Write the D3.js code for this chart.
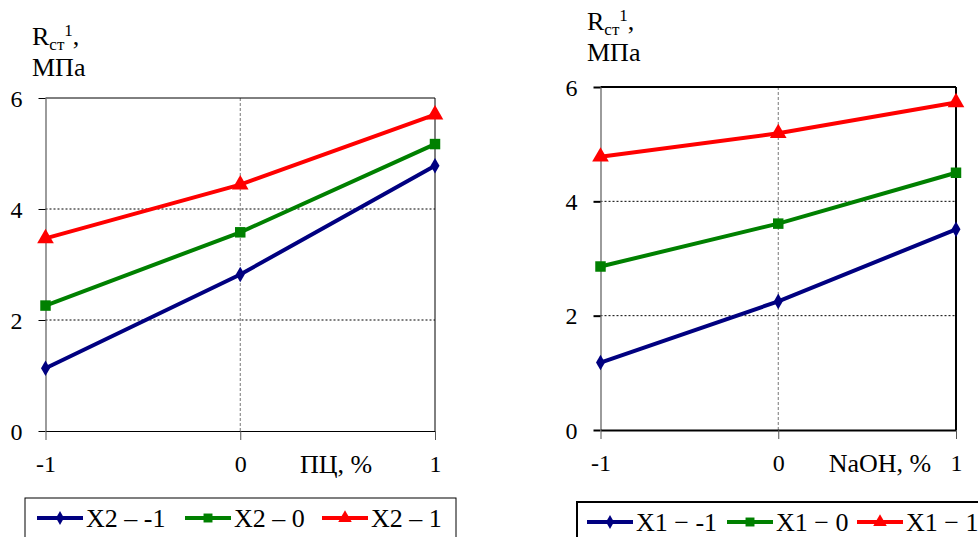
<!DOCTYPE html>
<meta charset="utf-8">
<style>
body { margin: 0; background: #fff; }
svg, svg text { font-family: "Liberation Serif", "Times New Roman", serif; fill: #000; }
.grid-h { stroke: #000; stroke-width: 1px; stroke-dasharray: 2,2; }
.grid-v { stroke: #777; stroke-width: 1px; stroke-dasharray: 3,2; }
.serie { fill: none; stroke-width: 4px; }
</style>
<body>
<script src="https://cdn.jsdelivr.net/npm/d3@7"></script>
<script>

// x levels and y ticks shared by both charts
var xLevels = [-1, 0, 1];
var yTicks = [0, 2, 4, 6];
var colors = ["#000080", "#008000", "#ff0000"];
var shapes = [d3.symbolDiamond, d3.symbolSquare, d3.symbolTriangle];

// left chart: R vs ПЦ, series by X2
var leftNames = ["X2 \u2013 -1", "X2 \u2013 0", "X2 \u2013 1"];
var leftX2m1 = [1.13, 2.82, 4.78];
var leftX20 = [2.26, 3.58, 5.17];
var leftX21 = [3.47, 4.44, 5.70];

// right chart: R vs NaOH, series by X1
var rightNames = ["X1 \u2212 -1", "X1 \u2212 0", "X1 \u2212 1"];
var rightX1m1 = [1.18, 2.25, 3.51];
var rightX10 = [2.86, 3.61, 4.50];
var rightX11 = [4.78, 5.19, 5.73];

var svg = d3.select("body").append("svg")
    .attr("width", 978)
    .attr("height", 537);

var plain = function(d) { return String(d); };

function draw(cfg) {
  var x = d3.scaleLinear().domain([-1, 1]).range([cfg.left, cfg.right]);
  var y = d3.scaleLinear().domain([0, 6]).range([cfg.bottom, cfg.top]);
  var g = svg.append("g");

  // grid
  g.selectAll(".grid-h").data([2, 4]).enter().append("line")
      .attr("class", "grid-h")
      .attr("x1", x(-1)).attr("x2", x(1))
      .attr("y1", d => y(d)).attr("y2", d => y(d));
  g.append("line").attr("class", "grid-v")
      .attr("x1", x(0)).attr("x2", x(0))
      .attr("y1", y(6)).attr("y2", y(0));

  // frame: top and right
  g.append("line").attr("x1", x(-1)).attr("x2", x(1))
      .attr("y1", y(6)).attr("y2", y(6))
      .attr("stroke", "#000").attr("stroke-width", cfg.frame);
  g.append("line").attr("x1", x(1)).attr("x2", x(1))
      .attr("y1", y(6)).attr("y2", y(0))
      .attr("stroke", "#000").attr("stroke-width", cfg.frame);

  // y axis
  var ya = g.append("g")
      .attr("transform", "translate(" + x(-1) + ",0)")
      .call(d3.axisLeft(y).tickValues(yTicks).tickSize(7).tickSizeOuter(0).tickPadding(16)
        .tickFormat(plain));
  ya.attr("font-family", null).attr("font-size", null);
  ya.select(".domain").attr("stroke", "#666").attr("stroke-width", 1.3);
  ya.selectAll(".tick line").attr("stroke", "#000").attr("stroke-width", cfg.frame);
  ya.selectAll("text").style("font-size", "24px").attr("dy", "0.34em");

  // x axis
  var xa = g.append("g")
      .attr("transform", "translate(0," + y(0) + ")")
      .call(d3.axisBottom(x).tickValues(xLevels).tickSize(9).tickSizeOuter(0).tickPadding(15)
        .tickFormat(plain));
  xa.attr("font-family", null).attr("font-size", null);
  xa.select(".domain").attr("stroke", "#000").attr("stroke-width", cfg.frame);
  xa.selectAll(".tick line").attr("stroke", "#555");
  xa.selectAll("text").style("font-size", "24px");

  g.append("text")
      .attr("x", cfg.xTitleX).attr("y", y(0) + 42)
      .attr("text-anchor", "middle")
      .style("font-size", "26px")
      .text(cfg.xTitle);

  // y title
  var t = g.append("text").attr("x", cfg.yTitleX).attr("y", cfg.yTitleY).style("font-size", "26px");
  t.append("tspan").text("R");
  t.append("tspan").attr("dy", 5).style("font-size", "17px").text("\u0441\u0442");
  t.append("tspan").attr("dy", -14).style("font-size", "17px").text("1");
  t.append("tspan").attr("dy", 9).text(",");
  g.append("text").attr("x", cfg.yTitleX).attr("y", cfg.yTitleY + 31)
      .style("font-size", "26px").text("\u041c\u041f\u0430");

  // series
  var line = d3.line().x((d, i) => x(xLevels[i])).y(d => y(d));
  cfg.series.forEach(function(s, k) {
    g.append("path").datum(s).attr("class", "serie")
        .attr("stroke", colors[k]).attr("d", line);
    g.selectAll(".m" + k).data(s).enter().append("path")
        .attr("class", "m" + k)
        .attr("transform", (d, i) => "translate(" + x(xLevels[i]) + "," + y(d) + ")")
        .attr("fill", colors[k])
        .attr("d", d3.symbol().type(shapes[k]).size([70, 110, 120][k]));
  });

  // legend
  var L = cfg.legend;
  g.append("rect").attr("x", L.x).attr("y", L.y).attr("width", L.w).attr("height", 60)
      .attr("fill", "none").attr("stroke", "#000").attr("stroke-width", cfg.frame);
  cfg.names.forEach(function(n, k) {
    var lx = L.items[k];
    g.append("line").attr("x1", lx).attr("x2", lx + 46)
        .attr("y1", L.y + 20).attr("y2", L.y + 20)
        .attr("stroke", colors[k]).attr("stroke-width", 4);
    g.append("path").attr("transform", "translate(" + (lx + 23) + "," + (L.y + 20) + ")")
        .attr("fill", colors[k])
        .attr("d", d3.symbol().type(shapes[k]).size([55, 80, 80][k]));
    g.append("text").attr("x", lx + 49).attr("y", L.y + 29)
        .style("font-size", "26px").text(n);
  });
}

draw({
  left: 45.5, right: 435, top: 98, bottom: 431, frame: 1,
  xTitle: "\u041f\u0426, %", xTitleX: 336,
  yTitleX: 32, yTitleY: 45,
  series: [leftX2m1, leftX20, leftX21], names: leftNames,
  legend: { x: 25, y: 498, w: 431, items: [37, 185, 322] }
});

draw({
  left: 600.5, right: 956, top: 87, bottom: 430, frame: 2,
  xTitle: "NaOH, %", xTitleX: 880,
  yTitleX: 587, yTitleY: 30,
  series: [rightX1m1, rightX10, rightX11], names: rightNames,
  legend: { x: 577, y: 502, w: 420, items: [587, 727, 857] }
});

</script>
</body>
